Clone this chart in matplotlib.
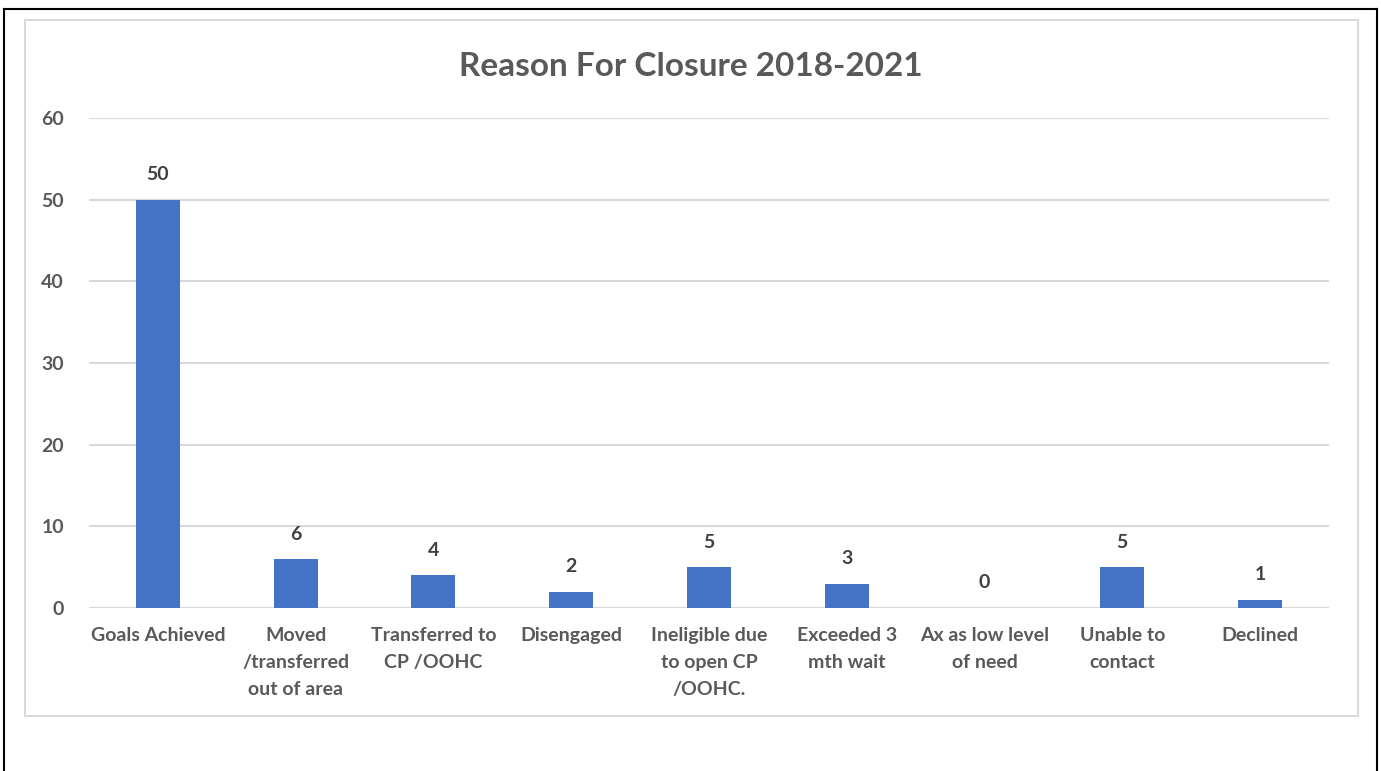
import numpy as np
import matplotlib.pyplot as plt
from matplotlib.patches import Rectangle
from matplotlib.lines import Line2D

# Chart data
categories = ["Goals Achieved", "Moved\n/transferred\nout of area", "Transferred to\nCP /OOHC",
              "Disengaged", "Ineligible due\nto open CP\n/OOHC.", "Exceeded 3\nmth wait",
              "Ax as low level\nof need", "Unable to\ncontact", "Declined"]
counts = [50, 6, 4, 2, 5, 3, 0, 5, 1]
yticks = [0, 10, 20, 30, 40, 50, 60]
title = "Reason For Closure 2018-2021"

plt.rcParams['font.family'] = ['Lato', 'DejaVu Sans']

fig = plt.figure(figsize=(13.81, 7.71), dpi=100)
W, H = 1381, 771

# outer black frame (no bottom edge) and grey chart border
fig.add_artist(Line2D([3.5 / W, 3.5 / W], [0, 1 - 8.5 / H], color='black', lw=1.5, transform=fig.transFigure))
fig.add_artist(Line2D([3.5 / W, 1376.5 / W], [1 - 8.5 / H, 1 - 8.5 / H], color='black', lw=1.5, transform=fig.transFigure))
fig.add_artist(Line2D([1376.5 / W, 1376.5 / W], [0, 1 - 8.5 / H], color='black', lw=1.5, transform=fig.transFigure))
fig.add_artist(Rectangle((25 / W, 1 - 716 / H), (1358 - 25) / W, (716 - 20) / H,
                         fill=False, edgecolor='#d9d9d9', lw=1.5, transform=fig.transFigure))

ax = fig.add_axes([89 / W, 1 - 608 / H, (1329 - 89) / W, (608 - 118) / H])
x = np.arange(len(categories))
bars = ax.bar(x, counts, width=0.32, color='#4472C4', zorder=3)

ax.set_xlim(-0.5, len(categories) - 0.5)
ax.set_ylim(0, 60)
ax.set_yticks(yticks)
ax.set_xticks(x)
ax.set_xticklabels(categories, fontsize=14, fontweight='bold', color='#595959', linespacing=1.7)
ax.tick_params(axis='x', length=0, pad=14)
ax.tick_params(axis='y', length=0, pad=18, labelsize=14, labelcolor='#595959')
for lab in ax.get_yticklabels():
    lab.set_fontweight('bold')
ax.grid(axis='y', color='#d9d9d9', lw=1.5, zorder=0)
for s in ax.spines.values():
    s.set_visible(False)

for xi, v in zip(x, counts):
    ax.annotate(str(v), (xi, v), xytext=(0, 18), textcoords='offset points',
                ha='center', va='center', fontsize=14, fontweight='bold', color='#404040')

fig.text(691 / W, 1 - 66 / H, title, ha='center', va='center', fontsize=24,
         fontweight='bold', color='#595959')

fig.savefig('out.png', dpi=100)
